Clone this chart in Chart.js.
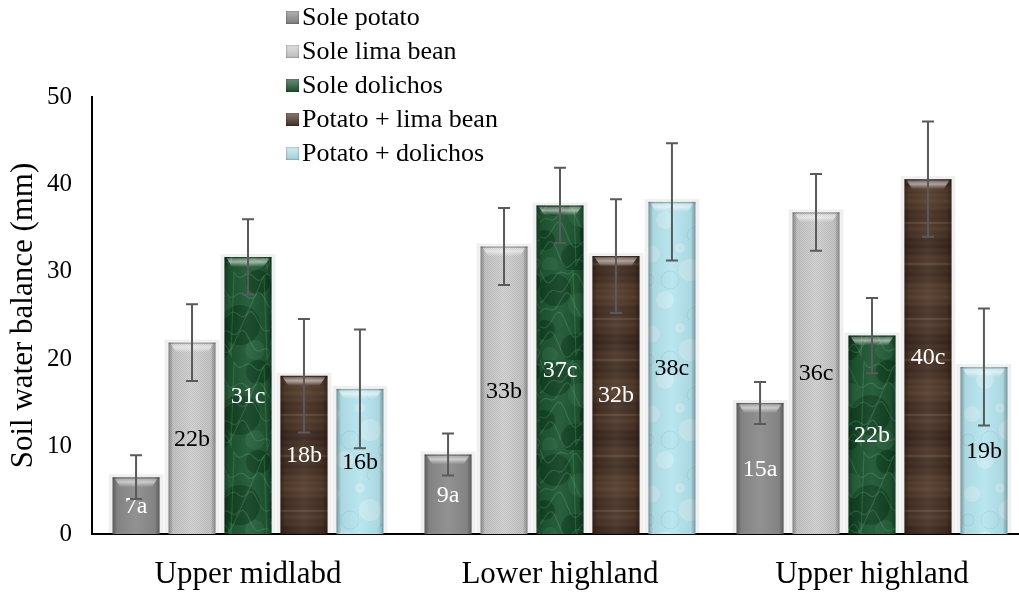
<!DOCTYPE html>
<html>
<head>
<meta charset="utf-8">
<script src="https://cdn.jsdelivr.net/npm/chart.js@4.4.1/dist/chart.umd.min.js"></script>
<style>
  html, body { margin: 0; padding: 0; background: #fff; overflow: hidden; }
  #wrap { position: relative; width: 1030px; height: 592px; }
  #legend { position: absolute; left: 286px; top: 0px; font-family: 'Liberation Serif', serif; font-size: 26px; color: #000; }
  #legend div { height: 34px; line-height: 34px; white-space: nowrap; }
  #legend span.box { display: inline-block; width: 13px; height: 13px; margin-right: 3px; vertical-align: 1px; box-shadow: inset 0 0 2px rgba(0,0,0,0.5); }
</style>
</head>
<body>
<div id="wrap">
  <canvas id="chart"></canvas>
  <div id="legend"></div>
</div>
<script>
// data
const categories = ['Upper midlabd', 'Lower highland', 'Upper highland'];
const seriesNames = ['Sole potato', 'Sole lima bean', 'Sole dolichos', 'Potato + lima bean', 'Potato + dolichos'];

const solePotato = [6.5, 9.1, 15.0];
const soleLima = [21.9, 32.9, 36.8];
const soleDolichos = [31.7, 37.6, 22.7];
const potatoLima = [18.1, 31.8, 40.6];
const potatoDolichos = [16.6, 38.0, 19.1];

// +/- error
const solePotatoErr = [2.5, 2.4, 2.4];
const soleLimaErr = [4.4, 4.4, 4.4];
const soleDolichosErr = [4.3, 4.3, 4.3];
const potatoLimaErr = [6.5, 6.5, 6.6];
const potatoDolichosErr = [6.8, 6.7, 6.7];

// letters shown in the bars
const solePotatoLabels = ['7a', '9a', '15a'];
const soleLimaLabels = ['22b', '33b', '36c'];
const soleDolichosLabels = ['31c', '37c', '22b'];
const potatoLimaLabels = ['18b', '32b', '40c'];
const potatoDolichosLabels = ['16b', '38c', '19b'];

const yMin = 0, yMax = 50, yStep = 10;

const FONT = "'Liberation Serif', 'Times New Roman', serif";

// textures for the bars
function makePattern(size, draw) {
	const c = document.createElement('canvas');
	c.width = size; c.height = size;
	draw(c.getContext('2d'), size);
	return document.createElement('canvas').getContext('2d').createPattern(c, 'repeat');
}

const grayFill = '#8b8b8b';

const limaFill = makePattern(8, (g, s) => {
	g.fillStyle = '#d2d2d2';
	g.fillRect(0, 0, s, s);
	g.fillStyle = '#c0c0c0';
	for (let y = 0; y < s; y++) {
		for (let x = 0; x < s; x++) {
			if ((x + y) % 2 == 0) g.fillRect(x, y, 1, 1);
		}
	}
});

const dolichosFill = makePattern(90, (g, s) => {
	g.fillStyle = '#1d5531';
	g.fillRect(0, 0, s, s);
	g.fillStyle = 'rgba(5,45,20,0.45)';
	[[15, 20, 16], [60, 55, 20], [35, 78, 14], [78, 12, 12], [5, 60, 10]].forEach(p => {
		g.beginPath(); g.arc(p[0], p[1], p[2], 0, Math.PI * 2); g.fill();
	});
	g.fillStyle = 'rgba(90,150,110,0.18)';
	[[40, 35, 12], [75, 80, 10], [10, 85, 8]].forEach(p => {
		g.beginPath(); g.arc(p[0], p[1], p[2], 0, Math.PI * 2); g.fill();
	});
	g.strokeStyle = 'rgba(130,195,150,0.22)';
	g.lineWidth = 1.2;
	for (let k = 0; k < 5; k++) {
		g.beginPath();
		for (let x = 0; x <= s; x += 3) {
			const y = (k * 19 + 10 * Math.sin(x / 9 + k) + 6 * Math.sin(x / 4 + k * 2) + s) % s;
			if (x == 0) g.moveTo(x, y); else g.lineTo(x, y);
		}
		g.stroke();
	}
});

const brownFill = makePattern(96, (g, s) => {
	for (let y = 0; y < s; y++) {
		const v = Math.sin(y * 0.9) * 0.4 + Math.sin(y * 0.21) * 0.7 + Math.sin(y * 0.065 + 1) * 0.6;
		const r = Math.round(72 + v * 10), gg = Math.round(51 + v * 8), b = Math.round(38 + v * 5);
		g.fillStyle = 'rgb(' + r + ',' + gg + ',' + b + ')';
		g.fillRect(0, y, s, 1);
	}
	g.fillStyle = 'rgba(150,110,80,0.25)';
	g.fillRect(0, 30, s, 2);
	g.fillRect(0, 71, s, 2);
});

const cyanFill = makePattern(80, (g, s) => {
	g.fillStyle = '#b5e5ee';
	g.fillRect(0, 0, s, s);
	g.fillStyle = 'rgba(255,255,255,0.25)';
	[[12, 14, 8], [50, 30, 11], [25, 60, 9], [68, 68, 7], [40, 8, 5]].forEach(p => {
		g.beginPath(); g.arc(p[0], p[1], p[2], 0, Math.PI * 2); g.fill();
	});
	g.strokeStyle = 'rgba(120,185,200,0.25)';
	g.lineWidth = 1;
	[[30, 40, 9], [64, 50, 6], [8, 40, 6], [55, 75, 8]].forEach(p => {
		g.beginPath(); g.arc(p[0], p[1], p[2], 0, Math.PI * 2); g.stroke();
	});
});

const seriesValues = [solePotato, soleLima, soleDolichos, potatoLima, potatoDolichos];
const seriesErrors = [solePotatoErr, soleLimaErr, soleDolichosErr, potatoLimaErr, potatoDolichosErr];
const seriesLabels = [solePotatoLabels, soleLimaLabels, soleDolichosLabels, potatoLimaLabels, potatoDolichosLabels];
const seriesFills = [grayFill, limaFill, dolichosFill, brownFill, cyanFill];
const legendColors = ['#8b8b8b', '#d0d0d0', '#1c5430', '#4a3426', '#b5e6ee'];
const labelColors = ['#fff', '#000', '#fff', '#fff', '#000'];

const datasets = seriesNames.map((name, i) => ({
	label: name,
	data: seriesValues[i],
	errors: seriesErrors[i],
	valueLabels: seriesLabels[i],
	labelColor: labelColors[i],
	backgroundColor: seriesFills[i],
	borderWidth: 0,
	categoryPercentage: 0.897,
	barPercentage: 0.84
}));

// halo, bevel, letters and error bars
const barDecor = {
	id: 'barDecor',
	beforeDatasetsDraw(chart) {
		const ctx = chart.ctx;
		ctx.save();
		chart.data.datasets.forEach((ds, i) => {
			chart.getDatasetMeta(i).data.forEach(bar => {
				const p = bar.getProps(['x', 'y', 'base', 'width'], true);
				ctx.fillStyle = 'rgba(0,0,0,0.06)';
				ctx.fillRect(p.x - p.width / 2 - 4, p.y - 3, p.width + 8, p.base - p.y + 3);
			});
		});
		ctx.restore();
	},
	afterDatasetsDraw(chart) {
		const ctx = chart.ctx;
		const yScale = chart.scales.y;
		ctx.save();
		chart.data.datasets.forEach((ds, i) => {
			chart.getDatasetMeta(i).data.forEach((bar, j) => {
				const p = bar.getProps(['x', 'y', 'base', 'width'], true);
				const left = p.x - p.width / 2, w = p.width, top = p.y, h = p.base - p.y;
				// side shading
				const g = ctx.createLinearGradient(left, 0, left + w, 0);
				g.addColorStop(0, 'rgba(0,0,0,0.35)');
				g.addColorStop(0.1, 'rgba(0,0,0,0.06)');
				g.addColorStop(0.5, 'rgba(255,255,255,0.06)');
				g.addColorStop(0.9, 'rgba(0,0,0,0.06)');
				g.addColorStop(1, 'rgba(0,0,0,0.35)');
				ctx.fillStyle = g;
				ctx.fillRect(left, top, w, h);
				// top bevel
				const tg = ctx.createLinearGradient(0, top, 0, top + 10);
				tg.addColorStop(0, 'rgba(255,255,255,0.15)');
				tg.addColorStop(0.5, 'rgba(255,255,255,0.55)');
				tg.addColorStop(1, 'rgba(255,255,255,0)');
				ctx.fillStyle = tg;
				ctx.beginPath();
				ctx.moveTo(left + 2, top + 1);
				ctx.lineTo(left + w - 2, top + 1);
				ctx.lineTo(left + w - 8, top + 10);
				ctx.lineTo(left + 8, top + 10);
				ctx.closePath();
				ctx.fill();
				ctx.fillStyle = 'rgba(0,0,0,0.2)';
				ctx.fillRect(left, top, w, 1.5);

				// letter label in the middle of the bar
				ctx.fillStyle = ds.labelColor;
				ctx.font = '24px ' + FONT;
				ctx.textAlign = 'center';
				ctx.textBaseline = 'middle';
				ctx.fillText(ds.valueLabels[j], p.x, top + h / 2 + 1);
			});
		});
		// error bars on top
		ctx.strokeStyle = '#5a5a5a';
		ctx.lineWidth = 2;
		chart.data.datasets.forEach((ds, i) => {
			chart.getDatasetMeta(i).data.forEach((bar, j) => {
				const x = bar.getProps(['x'], true).x;
				const v = ds.data[j], e = ds.errors[j];
				const hi = yScale.getPixelForValue(v + e);
				const lo = yScale.getPixelForValue(v - e);
				ctx.beginPath();
				ctx.moveTo(x, hi); ctx.lineTo(x, lo);
				ctx.moveTo(x - 6, hi); ctx.lineTo(x + 6, hi);
				ctx.moveTo(x - 6, lo); ctx.lineTo(x + 6, lo);
				ctx.stroke();
			});
		});
		ctx.restore();
	}
};

new Chart(document.getElementById('chart'), {
	type: 'bar',
	data: {
		labels: categories,
		datasets: datasets
	},
	options: {
		responsive: true,
		maintainAspectRatio: false,
		animation: false,
		layout: { padding: { left: 0, right: 2, top: 97, bottom: 0 } },
		plugins: {
			legend: { display: false },
			tooltip: { enabled: false }
		},
		scales: {
			x: {
				grid: { display: false, drawTicks: false },
				border: { display: true, color: '#000', width: 2 },
				ticks: { color: '#000', padding: 22, font: { family: FONT, size: 31 } },
				afterFit: (scale) => { scale.height = 58; }
			},
			y: {
				min: yMin,
				max: yMax,
				grid: { display: false, drawTicks: false },
				border: { display: true, color: '#000', width: 2 },
				ticks: { stepSize: yStep, color: '#000', padding: 20, font: { family: FONT, size: 25 } },
				title: {
					display: true,
					text: 'Soil water balance (mm)',
					color: '#000',
					padding: { top: 5, bottom: 0 },
					font: { family: FONT, size: 31 }
				},
				afterFit: (scale) => { scale.width = 92; }
			}
		}
	},
	plugins: [barDecor]
});

// legend list above the plot
const legendDiv = document.getElementById('legend');
seriesNames.forEach((name, i) => {
	const row = document.createElement('div');
	const box = document.createElement('span');
	box.className = 'box';
	box.style.background = 'linear-gradient(180deg, rgba(255,255,255,0.35), rgba(0,0,0,0.1)), ' + legendColors[i];
	row.appendChild(box);
	row.appendChild(document.createTextNode(name));
	legendDiv.appendChild(row);
});
</script>
</body>
</html>
